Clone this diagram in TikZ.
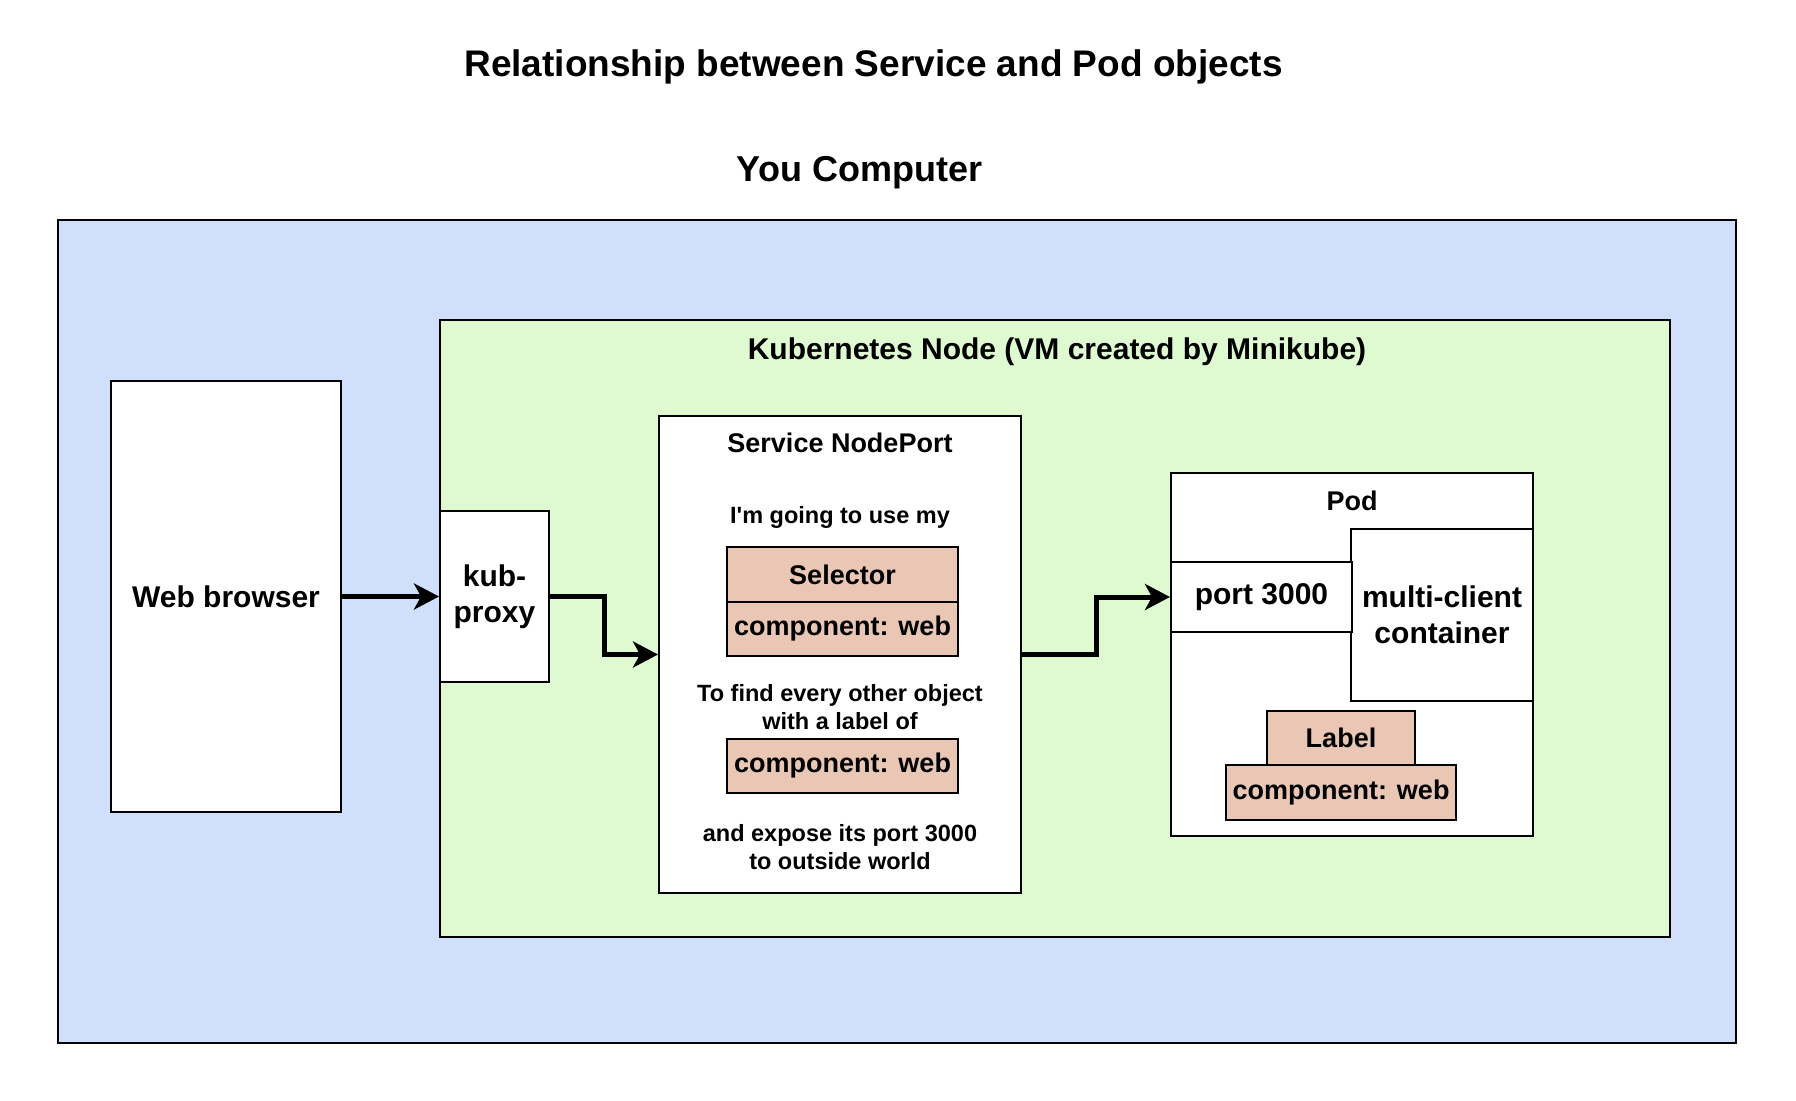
\documentclass[tikz,border=0pt]{standalone}
\usepackage{fontspec}
\setmainfont{Liberation Sans}
\usetikzlibrary{arrows.meta,calc}
\definecolor{bluebg}{HTML}{D0DFFB}
\definecolor{greenbg}{HTML}{DFFAD1}
\definecolor{salmon}{HTML}{E9C7B4}
\newcommand{\fsz}[2]{\fontsize{#1}{#2}\selectfont\bfseries}
\begin{document}
\begin{tikzpicture}[x=0.5pt,y=-0.5pt,
  boxstyle/.style={draw=black, line width=1pt, inner sep=0pt, fill=white, align=center},
  salbox/.style={boxstyle, fill=salmon},
  txt/.style={inner sep=0pt, align=center},
  big/.style={font=\fsz{15}{18}},
  mid/.style={font=\fsz{13.5}{16.2}},
  small/.style={font=\fsz{11.75}{14}},
  arr/.style={line width=2.5pt, -{Stealth[length=12.5pt,width=13pt,inset=3.5pt]}}
]
\useasboundingbox (0,0) rectangle (1796,1100);
\fill[white] (0,0) rectangle (1796,1100);

% titles
\node[txt, font=\fsz{18.5}{22}] (title) at (873.5,67) {Relationship between Service and Pod objects};
\node[txt, font=\fsz{18}{21.6}] (comp) at (859.5,172.5) {You Computer};

% outer boxes
\node[boxstyle, fill=bluebg, minimum width=839.25pt, minimum height=411.5pt] (computer) at (896.75,631.5) {};
\node[boxstyle, fill=greenbg, minimum width=615pt, minimum height=308.5pt] (knode) at (1055,628.5) {};
\node[txt, big] (knodetitle) at (1057,352) {Kubernetes Node (VM created by Minikube)};

% web browser and kub-proxy
\node[boxstyle, big, minimum width=115pt, minimum height=215.5pt] (web) at (226,596.5) {Web browser};
\node[boxstyle, big, minimum width=54.5pt, minimum height=85.5pt] (kp) at (494.5,596.5) {kub-\\proxy};

% service
\node[boxstyle, minimum width=181pt, minimum height=238.5pt] (svc) at (840,654.5) {};
\node[txt, mid] (svctitle) at (840,443) {Service NodePort};
\node[txt, small] (svct1) at (840,517) {I\textquotesingle m going to use my};
\node[salbox, mid, minimum width=115.5pt, minimum height=27.5pt] (sel) at (842.5,574.5) {Selector};
\node[salbox, mid, minimum width=115.5pt, minimum height=27pt] (selc) at (842.5,629) {component: web};
\node[txt, small] (svct2) at (840,707) {To find every other object\\with a label of};
\node[salbox, mid, minimum width=115.5pt, minimum height=27pt] (selc2) at (842.5,766) {component: web};
\node[txt, small] (svct3) at (840,847.5) {and expose its port 3000\\to outside world};

% pod
\node[boxstyle, minimum width=181pt, minimum height=181.5pt] (pod) at (1352,654.5) {};
\node[txt, mid] (podtitle) at (1352,501) {Pod};
\node[boxstyle, big, minimum width=91pt, minimum height=86pt] (multi) at (1442,615) {multi-client\\container};
\node[boxstyle, big, minimum width=90.5pt, minimum height=35pt] (port) at (1261.5,597) {port 3000};
\node[salbox, mid, minimum width=74pt, minimum height=27pt] (lab) at (1341,738) {Label};
\node[salbox, mid, minimum width=115pt, minimum height=27.5pt] (labc) at (1341,792.5) {component: web};

% connectors
\draw[arr] (web.east) -- (kp.west);
\draw[arr] (kp.east) -| ($(kp.east)!.5!(svc.west)$) |- (svc.west);
\draw[arr] (svc.east) -| ($(svc.east)!.5!(port.west)$) |- (port.west);
\end{tikzpicture}
\end{document}
